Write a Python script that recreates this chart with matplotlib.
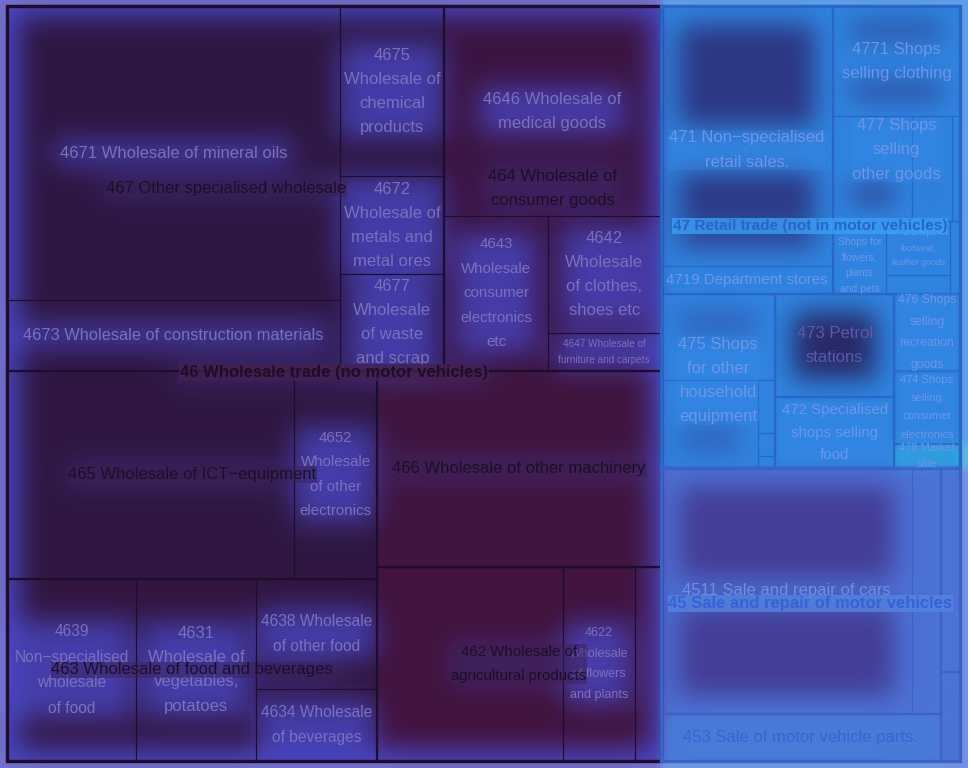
import numpy as np
import matplotlib
matplotlib.use("Agg")
import matplotlib.pyplot as plt
from matplotlib.patches import Rectangle

W, H = 968, 768
BOX = (7, 6, 960, 761)

# ---- data (tile sizes estimated from the tile areas) ----------------------
top_codes = ["46", "47", "45"]
top_names = ["46 Wholesale trade (no motor vehicles)",
             "47 Retail trade (not in motor vehicles)",
             "45 Sale and repair of motor vehicles"]

mid_codes = ["467", "464", "465", "466", "463", "462",
             "471", "477", "475", "473", "472", "476", "474", "478",
             "451", "453", "452", "454"]
mid_names = ["467 Other specialised wholesale",
             "464 Wholesale of\nconsumer goods",
             "465 Wholesale of ICT\u2212equipment",
             "466 Wholesale of other machinery",
             "463 Wholesale of food and beverages",
             "462 Wholesale of\nagricultural products",
             "471 Non\u2212specialised\nretail sales.",
             "477 Shops\nselling\nother goods",
             "475 Shops\nfor other\nhousehold\nequipment",
             "473 Petrol\nstations",
             "472 Specialised\nshops selling\nfood",
             "476 Shops\nselling\nrecreation\ngoods",
             "474 Shops\nselling\nconsumer\nelectronics",
             "478 Market\nsale",
             "", "453 Sale of motor vehicle parts.", "", ""]

leaf_codes = ["4671", "4673", "4675", "4672", "4677",
              "4646", "4643", "4642", "4647",
              "4651", "4652",
              "4639", "4631", "4638", "4634",
              "466",
              "4621", "4622", "4623",
              "4711", "4719",
              "4771", "4778", "4775", "4779", "4776", "4772", "4774", "4773",
              "4759", "4754", "4751", "4752", "4753",
              "473", "472",
              "476", "474", "478",
              "4511", "4519", "453", "452", "454"]
leaf_values = [979, 233, 177, 102, 100,
               454, 159, 132, 42,
               597, 173,
               235, 218, 133, 87,
               555,
               359, 140, 50,
               447, 48,
               140, 82, 42, 8, 39, 35, 12, 7,
               99, 85, 9, 4, 2,
               122, 83,
               51, 48, 16,
               617, 71, 132, 39, 17]
leaf_names = ["4671 Wholesale of mineral oils",
              "4673 Wholesale of construction materials",
              "4675\nWholesale of\nchemical\nproducts",
              "4672\nWholesale of\nmetals and\nmetal ores",
              "4677\nWholesale\nof waste\nand scrap",
              "4646 Wholesale of\nmedical goods",
              "4643\nWholesale\nconsumer\nelectronics\netc",
              "4642\nWholesale\nof clothes,\nshoes etc",
              "4647 Wholesale of\nfurniture and carpets",
              "", "4652\nWholesale\nof other\nelectronics",
              "4639\nNon\u2212specialised\nwholesale\nof food",
              "4631\nWholesale of\nvegetables,\npotatoes",
              "4638 Wholesale\nof other food",
              "4634 Wholesale\nof beverages",
              "",
              "", "4622\nWholesale\nof flowers\nand plants", "",
              "", "4719 Department stores",
              "4771 Shops\nselling clothing", "", "", "",
              "4776\nShops for\nflowers,\nplants\nand pets",
              "4772 Shops for\nfootwear,\nleather goods", "", "",
              "", "", "", "", "",
              "", "", "", "", "",
              "4511 Sale and repair of cars", "", "", "", ""]

# ---- layout: slicing order of the tiles ("h" side by side, "v" stacked) ---
LAYOUT = ("h",
          ("v",
           ("h", ("h", ("v", "4671", "4673"), ("v", "4675", "4672", "4677")),
                 ("v", "4646", ("h", "4643", ("v", "4642", "4647")))),
           ("h", ("v", ("h", "4651", "4652"),
                       ("h", "4639", "4631", ("v", "4638", "4634"))),
                 ("v", "466", ("h", "4621", "4622", "4623")))),
          ("v",
           ("v", ("h", ("v", "4711", "4719"),
                       ("v", "4771", ("h", "4778", "4775", "4779"),
                             ("h", "4776", ("v", "4772", "4774"), "4773"))),
                 ("h", ("v", "4759", ("h", "4754", ("v", "4751", "4752", "4753"))),
                       ("v", "473", "472"),
                       ("v", "476", "474", "478"))),
           ("h", ("v", ("h", "4511", "4519"), "453"), ("v", "452", "454"))))

value_of = dict(zip(leaf_codes, leaf_values))


def node_total(node):
    if isinstance(node, str):
        return value_of[node]
    return sum(node_total(k) for k in node[1:])


def slice_layout(node, x0, y0, x1, y1, out):
    if isinstance(node, str):
        out[node] = (x0, y0, x1, y1)
        return
    kids = node[1:]
    tot = np.array([node_total(k) for k in kids], dtype=float)
    edges = np.concatenate([[0], np.cumsum(tot)]) / tot.sum()
    for k, a, b in zip(kids, edges[:-1], edges[1:]):
        if node[0] == "h":
            slice_layout(k, x0 + a * (x1 - x0), y0, x0 + b * (x1 - x0), y1, out)
        else:
            slice_layout(k, x0, y0 + a * (y1 - y0), x1, y0 + b * (y1 - y0), out)


rects = {}
slice_layout(LAYOUT, *BOX, rects)


def group_rect(code):
    rr = [rects[c] for c in leaf_codes if c.startswith(code)]
    return (min(r[0] for r in rr), min(r[1] for r in rr),
            max(r[2] for r in rr), max(r[3] for r in rr))


def pick(code, table):
    for n in range(len(code), 0, -1):
        if code[:n] in table:
            return table[code[:n]]


# ---- styles ----------------------------------------------------------------
inner_col = {"467": "#2f1743", "464": "#3b1442", "465": "#301742", "466": "#3f153e",
             "463": "#321641", "462": "#41133e", "47": "#2d3784", "473": "#282a68",
             "475": "#2f5cb4", "45": "#443d96"}
outer_col = {"46": "#4946c2", "47": "#2f84e0", "478": "#2aa4da", "45": "#4c72d6",
             "453": "#4a7ad8"}
line_col = {"46": "#1d0f2c", "47": "#2a66c8", "45": "#3a62c8"}
leaf_txt = {"46": "#7a70bc", "47": "#6c96ea", "45": "#6c8ee6"}
mid_txt = {"46": "#1d0e28", "47": "#6c96ea", "473": "#5e58aa", "45": "#3a62d2"}
mid_bg = {"46": "#3c1f52", "47": "#3a8cea", "45": "#4d7ada"}
top_txt = {"46": "#1e0d26", "47": "#2b63cc", "45": "#3563d6"}
top_bg = {"46": "#45204f", "47": "#39a0f2", "45": "#5584e2"}
top_pt = {"46": 12, "47": 11.1, "45": 12}
leaf_pt = {"4673": 11.8, "4643": 10.8, "4652": 10.8, "4639": 11.2,
           "4638": 11.2, "4634": 11.2, "4622": 9, "4719": 10.8,
           "4647": 7.2, "4776": 7.5, "4772": 6.3}
mid_pt = {"462": 10.8, "472": 10.8, "476": 8.8, "474": 8, "478": 8}
line_px = {"4647": 15, "4776": 14.8, "4772": 13.5, "4622": 20.5,
           "476": 21, "474": 18.7, "478": 16, "472": 22}
FONT = ["Liberation Sans", "DejaVu Sans"]
BASE_PT = 12


def lsp(code, pt):
    # line spacing that gives the wanted baseline distance in pixels
    return line_px.get(code, 24.3) / (0.83 * pt * 100 / 72)


fig = plt.figure(figsize=(W / 100, H / 100), dpi=100)
ax = fig.add_axes([0, 0, 1, 1])
ax.set_xlim(0, W)
ax.set_ylim(H, 0)
ax.axis("off")

texts = []   # (artist, glow weight)
for code, name in zip(leaf_codes, leaf_names):
    if not name:
        continue
    x0, y0, x1, y1 = rects[code]
    pt = leaf_pt.get(code, BASE_PT)
    t = ax.text((x0 + x1) / 2, (y0 + y1) / 2, name, ha="center", va="center",
                family=FONT, fontsize=pt, linespacing=lsp(code, pt),
                color=pick(code, leaf_txt), zorder=5)
    texts.append((t, 0.8 if code[:2] == "46" else 1.0))

for code, name in zip(mid_codes, mid_names):
    if not name:
        continue
    x0, y0, x1, y1 = group_rect(code)
    pt = mid_pt.get(code, BASE_PT)
    bg = None
    if code != "473":
        bg = dict(boxstyle="square,pad=0.05", fc=pick(code, mid_bg), ec="none",
                  alpha=0.45 if code[:2] == "46" else 0.25)
    t = ax.text((x0 + x1) / 2, (y0 + y1) / 2, name, ha="center", va="center",
                family=FONT, fontsize=pt, linespacing=lsp(code, pt),
                color=pick(code, mid_txt), zorder=6, bbox=bg)
    texts.append((t, 0.0 if code == "473" else (0.3 if code[:2] == "46" else 1.0)))

for code, name in zip(top_codes, top_names):
    x0, y0, x1, y1 = group_rect(code)
    t = ax.text((x0 + x1) / 2, (y0 + y1) / 2 - 11, name, ha="center", va="center",
                family=FONT, fontsize=top_pt[code], fontweight="bold",
                color=top_txt[code], zorder=7,
                bbox=dict(boxstyle="square,pad=0.05", fc=top_bg[code],
                          ec="none", alpha=0.8))
    texts.append((t, 0.3))

fig.canvas.draw()
renderer = fig.canvas.get_renderer()


# ---- glow background -------------------------------------------------------
def to_rgb(c):
    return np.array(matplotlib.colors.to_rgb(c))


def blur(a, s):
    r = int(3 * s)
    k = np.exp(-0.5 * (np.arange(-r, r + 1) / s) ** 2)
    k /= k.sum()
    p = np.pad(a, r, mode="edge")
    p = np.apply_along_axis(lambda v: np.convolve(v, k, mode="valid"), 1, p)
    p = np.apply_along_axis(lambda v: np.convolve(v, k, mode="valid"), 0, p)
    return p


bx0, by0, bx1, by1 = BOX
inner = np.zeros((H, W, 3))
outer = np.zeros((H, W, 3))
dark = np.zeros((H, W))
for code in leaf_codes:
    x0, y0, x1, y1 = [int(round(v)) for v in rects[code]]
    inner[y0:y1, x0:x1] = to_rgb(pick(code, inner_col))
    outer[y0:y1, x0:x1] = to_rgb(pick(code, outer_col))
    if code[:2] != "46":
        e = 18
        dark[y0 + e:y1 - e, x0 + e:x1 - e] = 1
g = [int(round(v)) for v in group_rect("46")]
dark[g[1] + 10:g[3] - 12, g[0] + 12:g[2] - 10] = 1

for t, w in texts:
    bb = t.get_window_extent(renderer)
    ya, yb = int(H - bb.y1) - 4, int(H - bb.y0) + 4
    xa, xb = int(bb.x0) - 4, int(bb.x1) + 4
    ya, xa = max(ya, 0), max(xa, 0)
    dark[ya:yb, xa:xb] *= (1 - w)

# fill frame with the edge colours, then soften the colour blocks a little
sl = (slice(by0, by1), slice(bx0, bx1))
pads = ((by0, H - by1), (bx0, W - bx1), (0, 0))
inner = np.pad(inner[sl], pads, mode="edge")
outer = np.pad(outer[sl], pads, mode="edge")
outer = np.stack([blur(outer[..., i], 4) for i in range(3)], axis=-1)
m = blur(dark, 13)[..., None]
img = outer + (inner - outer) * m
frame = np.ones((H, W), bool)
frame[by0:by1, bx0:bx1] = False
img[frame] = img[frame] * 0.78 + 0.22
ax.imshow(np.clip(img, 0, 1), extent=(0, W, H, 0), interpolation="bilinear",
          zorder=0, aspect="auto")

# ---- borders ---------------------------------------------------------------
for code in leaf_codes:
    x0, y0, x1, y1 = rects[code]
    ax.add_patch(Rectangle((x0, y0), x1 - x0, y1 - y0, fill=False, lw=0.8,
                           ec=pick(code, line_col), zorder=2))
for code in mid_codes:
    x0, y0, x1, y1 = group_rect(code)
    ax.add_patch(Rectangle((x0, y0), x1 - x0, y1 - y0, fill=False, lw=1.5,
                           ec=pick(code, line_col), zorder=3))
for code in top_codes:
    x0, y0, x1, y1 = group_rect(code)
    ax.add_patch(Rectangle((x0, y0), x1 - x0, y1 - y0, fill=False, lw=2.4,
                           ec=line_col[code], zorder=4))

fig.savefig("out.png", dpi=100)
